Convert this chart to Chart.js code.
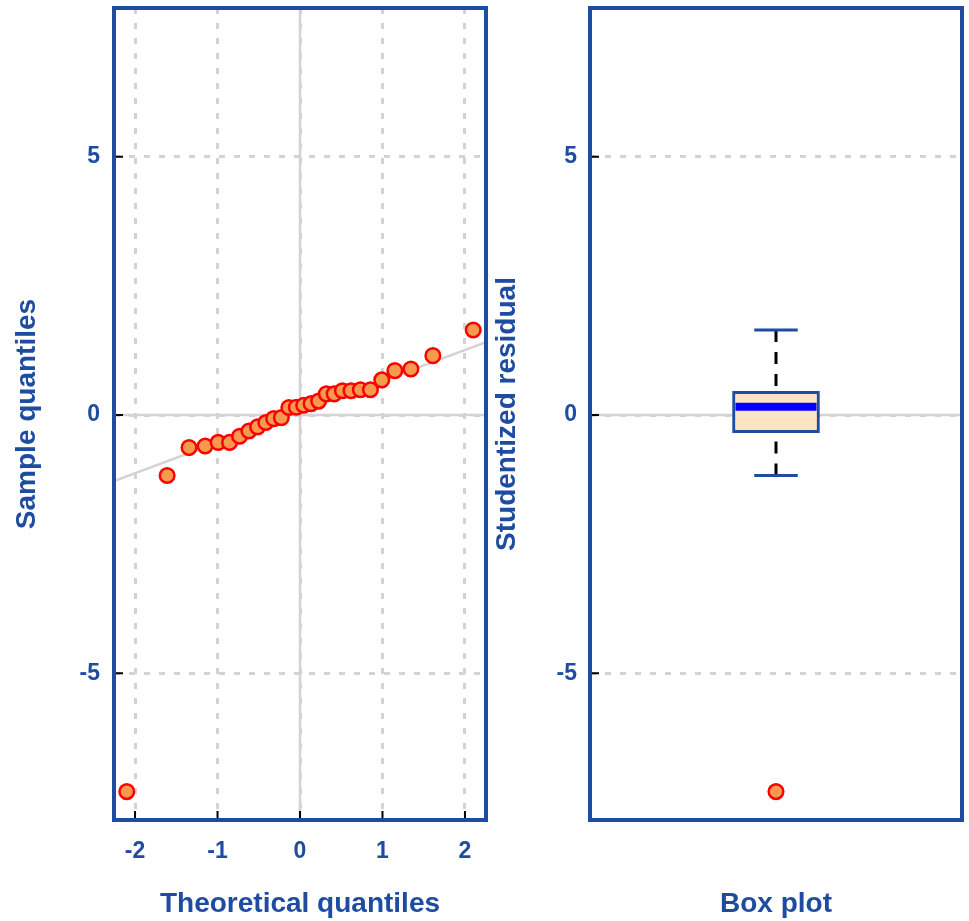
<!DOCTYPE html>
<html>
<head>
<meta charset="utf-8">
<script src="https://cdn.jsdelivr.net/npm/chart.js@4.4.1/dist/chart.umd.min.js"></script>
<style>
  html, body { margin: 0; padding: 0; background: #ffffff; }
  #wrap { position: relative; width: 969px; height: 921px; overflow: hidden; }
  #qq { position: absolute; left: 0; top: 0; }
  #box { position: absolute; left: 490px; top: 0; }
</style>
</head>
<body>
<div id="wrap">
  <canvas id="qq" width="490" height="921"></canvas>
  <canvas id="box" width="479" height="921"></canvas>
</div>
<script>
// Normal Q-Q plot of studentized residuals (n = 28) and their box plot.
const theoreticalQuantiles = [-2.100, -1.611, -1.345, -1.150, -0.992, -0.854, -0.732, -0.619,
  -0.514, -0.414, -0.319, -0.226, -0.135, -0.045, 0.045, 0.135, 0.226, 0.319, 0.414, 0.514,
  0.619, 0.732, 0.854, 0.992, 1.150, 1.345, 1.611, 2.100];
const sampleQuantiles = [-7.29, -1.17, -0.63, -0.60, -0.53, -0.53, -0.41, -0.31,
  -0.23, -0.145, -0.07, -0.05, 0.145, 0.15, 0.19, 0.22, 0.27, 0.41, 0.41, 0.47,
  0.47, 0.49, 0.49, 0.68, 0.86, 0.89, 1.15, 1.645];

// Reference line through the quartiles: [intercept, slope]
const qqLine = [0.066, 0.597];

const xTickValues = [-2, -1, 0, 1, 2];
const yTickValues = [-5, 0, 5];

// Box plot summary of the same residuals
const boxLabels = ['Residuals'];
const boxLowerWhisker = [-1.17];
const boxQ1 = [-0.343];
const boxMedian = [0.161];
const boxQ3 = [0.459];
const boxUpperWhisker = [1.645];
const boxOutliers = [-7.29];

const X_RANGE = [-2.255, 2.255];
const Y_RANGE = [-7.84, 7.88];

const BLUE = '#1e4ca0';
const GRID = '#d3d3d3';
const FONT = "'Liberation Sans', Arial, Helvetica, sans-serif";

// Frame, solid zero lines and inward tick marks
const framePlugin = {
  id: 'frame',
  beforeDatasetsDraw(chart, args, opts) {
    const { ctx, chartArea: a, scales } = chart;
    ctx.save();
    ctx.strokeStyle = GRID;
    ctx.lineWidth = 2.5;
    ctx.beginPath();
    if (opts.zeroX) {
      const px = scales.x.getPixelForValue(0);
      ctx.moveTo(px, a.top); ctx.lineTo(px, a.bottom);
    }
    const py = scales.y.getPixelForValue(0);
    ctx.moveTo(a.left, py); ctx.lineTo(a.right, py);
    ctx.stroke();
    ctx.restore();
  },
  afterDatasetsDraw(chart, args, opts) {
    const { ctx, chartArea: a, scales } = chart;
    ctx.save();
    ctx.strokeStyle = '#000000';
    ctx.lineWidth = 2;
    ctx.beginPath();
    yTickValues.forEach(v => {
      const py = scales.y.getPixelForValue(v);
      ctx.moveTo(a.left, py); ctx.lineTo(a.left + 9, py);
    });
    if (opts.xTicks) {
      xTickValues.forEach(v => {
        const px = scales.x.getPixelForValue(v);
        ctx.moveTo(px, a.bottom); ctx.lineTo(px, a.bottom - 9);
      });
    }
    ctx.stroke();
    ctx.strokeStyle = BLUE;
    ctx.lineWidth = 4;
    ctx.strokeRect(a.left, a.top, a.right - a.left, a.bottom - a.top);
    ctx.restore();
  }
};

// Whiskers, caps and median of the box plot
const boxPlugin = {
  id: 'boxParts',
  afterDatasetsDraw(chart) {
    const { ctx, scales } = chart;
    const meta = chart.getDatasetMeta(0);
    const y = scales.y;
    ctx.save();
    meta.data.forEach((bar, i) => {
      const cx = bar.x;
      const half = bar.width / 2;
      const capHalf = bar.width / 4;
      const yMax = y.getPixelForValue(boxUpperWhisker[i]);
      const yMin = y.getPixelForValue(boxLowerWhisker[i]);
      const yQ3 = y.getPixelForValue(boxQ3[i]);
      const yQ1 = y.getPixelForValue(boxQ1[i]);
      const yMed = y.getPixelForValue(boxMedian[i]);
      // dashed whiskers
      ctx.strokeStyle = '#000000';
      ctx.lineWidth = 3;
      ctx.setLineDash([12, 10]);
      ctx.beginPath();
      ctx.moveTo(cx, yMax); ctx.lineTo(cx, yQ3);
      ctx.moveTo(cx, yMin); ctx.lineTo(cx, yQ1);
      ctx.stroke();
      ctx.setLineDash([]);
      // caps
      ctx.strokeStyle = BLUE;
      ctx.lineWidth = 3;
      ctx.beginPath();
      ctx.moveTo(cx - capHalf, yMax); ctx.lineTo(cx + capHalf, yMax);
      ctx.moveTo(cx - capHalf, yMin); ctx.lineTo(cx + capHalf, yMin);
      ctx.stroke();
      // median
      ctx.strokeStyle = '#0000ff';
      ctx.lineWidth = 8;
      ctx.beginPath();
      ctx.moveTo(cx - half + 3, yMed); ctx.lineTo(cx + half - 3, yMed);
      ctx.stroke();
    });
    ctx.restore();
  }
};

const fixedTicks = values => scale => { scale.ticks = values.map(v => ({ value: v })); };

// fixed axis sizes without label overhang padding
const fitY = w => s => { s.width = w; s.paddingTop = 0; s.paddingBottom = 0; };
const fitX = h => s => { s.height = h; s.paddingLeft = 0; s.paddingRight = 0; };

const gridOpts = { color: GRID, lineWidth: 3, drawTicks: false };
const borderOpts = { display: false, dash: [6, 9] };
const tickFont = { family: FONT, size: 23, weight: 'bold' };
const titleFont = { family: FONT, size: 28, weight: 'bold' };

const pointStyle = {
  pointRadius: 7.3,
  pointBackgroundColor: '#f79a4f',
  pointBorderColor: '#ff0000',
  pointBorderWidth: 2.5,
  pointHoverRadius: 7.3
};

// ---- Q-Q plot ----
new Chart(document.getElementById('qq'), {
  type: 'scatter',
  data: {
    datasets: [
      Object.assign({
        label: 'Residuals',
        data: theoreticalQuantiles.map((t, i) => ({ x: t, y: sampleQuantiles[i] }))
      }, pointStyle),
      {
        type: 'line',
        label: 'Q-Q line',
        data: X_RANGE.map(x => ({ x: x, y: qqLine[0] + qqLine[1] * x })),
        borderColor: GRID,
        borderWidth: 2.5,
        pointRadius: 0,
        fill: false
      }
    ]
  },
  options: {
    responsive: false,
    animation: false,
    events: [],
    layout: { autoPadding: false, padding: { top: 8, right: 4, bottom: 0, left: 0 } },
    plugins: { legend: { display: false }, tooltip: { enabled: false }, frame: { zeroX: true, xTicks: true } },
    scales: {
      x: {
        type: 'linear',
        min: X_RANGE[0], max: X_RANGE[1],
        afterBuildTicks: fixedTicks(xTickValues),
        grid: gridOpts,
        border: borderOpts,
        ticks: { color: BLUE, font: tickFont, padding: 18 },
        title: { display: true, text: 'Theoretical quantiles', color: BLUE, font: titleFont, padding: { top: 0, bottom: 0 } },
        afterFit: fitX(101)
      },
      y: {
        type: 'linear',
        min: Y_RANGE[0], max: Y_RANGE[1],
        afterBuildTicks: fixedTicks(yTickValues),
        grid: gridOpts,
        border: borderOpts,
        ticks: { color: BLUE, font: tickFont, padding: 14 },
        title: { display: true, text: 'Sample quantiles', color: BLUE, font: titleFont, padding: { top: 10, bottom: 0 } },
        afterFit: fitY(114)
      }
    }
  },
  plugins: [framePlugin]
});

// ---- Box plot ----
new Chart(document.getElementById('box'), {
  type: 'bar',
  data: {
    labels: boxLabels,
    datasets: [
      {
        label: 'Box',
        data: boxQ1.map((q, i) => [q, boxQ3[i]]),
        backgroundColor: '#ffe4c4',
        borderColor: BLUE,
        borderWidth: 3,
        borderSkipped: false,
        barThickness: 87
      },
      Object.assign({
        type: 'line',
        label: 'Outliers',
        data: boxOutliers,
        showLine: false
      }, pointStyle)
    ]
  },
  options: {
    responsive: false,
    animation: false,
    events: [],
    layout: { autoPadding: false, padding: { top: 8, right: 7, bottom: 0, left: 0 } },
    plugins: { legend: { display: false }, tooltip: { enabled: false }, frame: { zeroX: false, xTicks: false } },
    scales: {
      x: {
        type: 'category',
        grid: { display: false },
        border: { display: false },
        ticks: { display: false },
        title: { display: true, text: 'Box plot', color: BLUE, font: titleFont, padding: { top: 0, bottom: 0 } },
        afterFit: fitX(101)
      },
      y: {
        type: 'linear',
        min: Y_RANGE[0], max: Y_RANGE[1],
        afterBuildTicks: fixedTicks(yTickValues),
        grid: gridOpts,
        border: borderOpts,
        ticks: { color: BLUE, font: tickFont, padding: 13 },
        title: { display: true, text: 'Studentized residual', color: BLUE, font: titleFont, padding: { top: 0, bottom: 0 } },
        afterFit: fitY(100)
      }
    }
  },
  plugins: [framePlugin, boxPlugin]
});
</script>
</body>
</html>
